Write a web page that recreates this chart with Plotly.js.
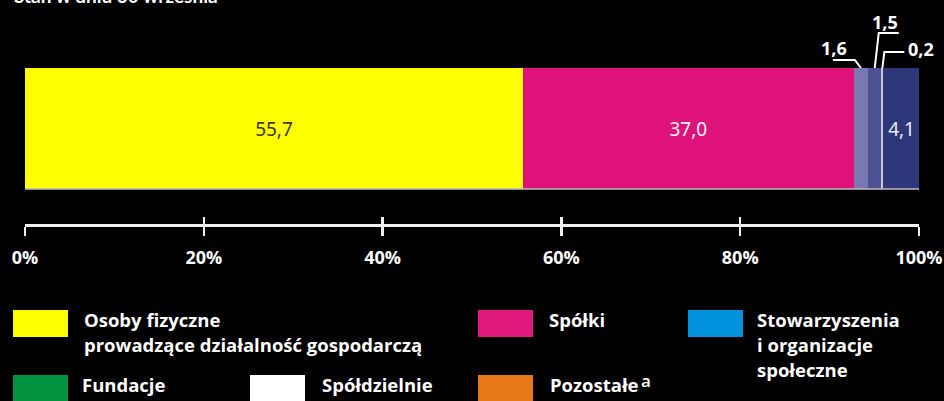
<!DOCTYPE html>
<html>
<head>
<meta charset="utf-8">
<script src="https://cdn.plot.ly/plotly-3.0.1.min.js"></script>
<style>html,body{margin:0;padding:0;background:#000;}#chart{width:944px;height:401px;}</style>
</head>
<body>
<div id="chart"></div>
<script>
// ---- data ----
const categories = ['Osoby fizyczne prowadzące działalność gospodarczą', 'Spółki', 'Stowarzyszenia i organizacje społeczne', 'Fundacje', 'Spółdzielnie', 'Pozostałe'];
const values = [55.7, 37.0, 1.6, 1.5, 0.2, 4.1];
const barColors = ['#FFFF00', '#DE127A', '#7B78AF', '#4E5295', '#C9C9D6', '#2E3779'];
const legendColors = ['#FFFF00', '#E0197D', '#0092DD', '#00923F', '#FFFFFF', '#E77817'];
const legendLines = [['Osoby fizyczne', 'prowadzące działalność gospodarczą'], ['Spółki'], ['Stowarzyszenia', 'i organizacje', 'społeczne'], ['Fundacje'], ['Spółdzielnie'], ['Pozostałe']];
const footnoteMarks = ['', '', '', '', '', 'a'];
const tickVals = [0, 20, 40, 60, 80, 100];
const tickText = ['0%', '20%', '40%', '60%', '80%', '100%'];
const titleText = 'Stan w dniu 30 września';

// ---- layout helpers ----
const W = 944, H = 401;
const M = {l: 25, r: 25, t: 0, b: 177};
const plotW = W - M.l - M.r, plotH = H - M.t - M.b;
const yRange = [-0.7893, 1.062];
const pxY = plotH / (yRange[1] - yRange[0]); // px per y unit
const pxX = plotW / 100;
const px2paperX = px => (px - M.l) / plotW;
const px2paperY = py => (H - M.b - py) / plotH;
const py2y = py => yRange[1] - (py - M.t) / pxY;
const fmt = v => v.toFixed(1).replace('.', ',');

const insideText = [true, true, false, false, false, true];
const textColors = ['#3a3a2a', '#f4f4f4', '#fff', '#fff', '#fff', '#ececf4'];

const traces = categories.map((c, i) => ({
  type: 'bar', orientation: 'h', name: c,
  x: [values[i]], y: [0], width: 1,
  marker: {color: barColors[i], line: {width: 0}},
  text: [fmt(values[i])],
  textposition: insideText[i] ? 'inside' : 'none',
  insidetextanchor: 'middle', textangle: 0,
  textfont: {family: 'Noto Sans, sans-serif', size: 19, color: textColors[i]},
  hoverinfo: 'name+x', showlegend: false
}));
// invisible helper trace for the second (inside ticks) axis
traces.push({type: 'scatter', x: [0, 100], y: [0, 0], xaxis: 'x2', mode: 'none', hoverinfo: 'skip', showlegend: false});

// cumulative centres
const cum = [];
let s = 0;
values.forEach(v => { cum.push(s + v / 2); s += v; });

const shapes = [];
const annotations = [];

// bottom edge line of bar
shapes.push({type: 'line', xref: 'x', yref: 'y', x0: 0, x1: s, y0: -0.5, y1: -0.5, line: {color: '#bdbdbd', width: 1.5}});

// leader lines for small segments: [index, elbow dx px, elbow py, end dx px, label dx px, label py]
const leaders = [[2, -6, 60, -28, -27, 48], [3, 4, 33, 24, 10, 22], [4, 2, 52, 22, 39, 49]];
leaders.forEach(([i, edx, epy, ndx, ldx, lpy]) => {
  const c = cum[i];
  const x1 = c + edx / pxX, y1 = py2y(epy), x2 = c + ndx / pxX;
  shapes.push({type: 'path', xref: 'x', yref: 'y',
    path: `M ${c} 0.5 L ${x1} ${y1} L ${x2} ${y1}`,
    line: {color: '#ffffff', width: 2}});
  annotations.push({xref: 'x', yref: 'y', x: c, xshift: ldx, y: py2y(lpy), text: fmt(values[i]),
    showarrow: false, xanchor: 'center', yanchor: 'middle',
    font: {family: 'Open Sans, sans-serif', size: 18, color: '#fff', weight: 700}});
});

// title (mostly cropped at the top)
annotations.push({xref: 'paper', yref: 'paper', x: px2paperX(12), y: 1, xanchor: 'left', yanchor: 'bottom', yshift: -9,
  text: '<b>' + titleText + '</b>', showarrow: false,
  font: {family: 'Lato, sans-serif', size: 19, color: '#fff'}});

// legend (custom placement)
const swatchPos = [[13, 310], [478, 310], [688, 310], [13, 375], [250, 375], [478, 375]];
const textLeft = [82, 547, 755, 80, 320, 548];
categories.forEach((c, i) => {
  const [sx, sy] = swatchPos[i];
  shapes.push({type: 'rect', xref: 'paper', yref: 'paper',
    x0: px2paperX(sx), x1: px2paperX(sx + 55), y0: px2paperY(sy), y1: px2paperY(sy + 27),
    fillcolor: legendColors[i], line: {width: 0}});
  legendLines[i].forEach((ln, k) => {
    annotations.push({xref: 'paper', yref: 'paper', x: px2paperX(textLeft[i]), y: px2paperY(sy + 9 + k * 25),
      xanchor: 'left', yanchor: 'middle', text: ln, showarrow: false,
      font: {family: 'Open Sans, sans-serif', size: 18.5, color: '#fff', weight: 700}});
  });
  if (footnoteMarks[i]) {
    annotations.push({xref: 'paper', yref: 'paper', x: px2paperX(639), y: px2paperY(sy + 5),
      xanchor: 'left', yanchor: 'middle', text: footnoteMarks[i], showarrow: false,
      font: {family: 'Open Sans, sans-serif', size: 17, color: '#fff', weight: 600}});
  }
});

const layout = {
  width: W, height: H,
  margin: M,
  paper_bgcolor: '#000', plot_bgcolor: '#000',
  barmode: 'stack', showlegend: false,
  xaxis: {range: [0, 100], tickvals: tickVals, ticktext: tickText, ticks: 'outside', ticklen: 9, tickwidth: 2.5,
    tickcolor: '#eeeeee', showline: true, linecolor: '#eeeeee', linewidth: 3, showgrid: false, zeroline: false,
    ticklabelstandoff: 6, fixedrange: true,
    tickfont: {family: 'Open Sans, sans-serif', size: 18, color: '#fff', weight: 700}},
  xaxis2: {range: [0, 100], overlaying: 'x', anchor: 'y', side: 'bottom', tickvals: tickVals, ticks: 'inside', ticklen: 7,
    tickwidth: 2.5, tickcolor: '#eeeeee', showticklabels: false, showline: false, showgrid: false, zeroline: false},
  yaxis: {range: yRange, visible: false, showgrid: false, zeroline: false, fixedrange: true},
  shapes: shapes,
  annotations: annotations
};

Plotly.newPlot('chart', traces, layout, {displayModeBar: false, staticPlot: true});
</script>
</body>
</html>
